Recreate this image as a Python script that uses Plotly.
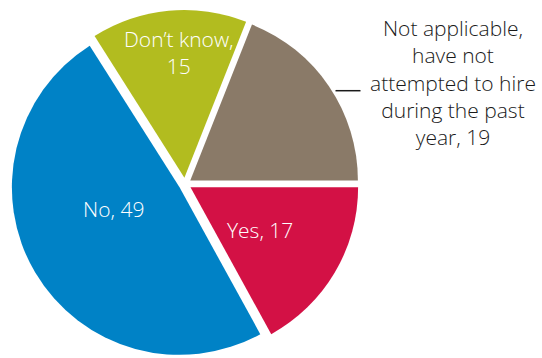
import plotly.graph_objects as go

# Survey responses (percent of respondents)
labels = ["Yes", "No", "Don’t know",
          "Not applicable, have not attempted to hire during the past year"]
values = [17, 49, 15, 19]
colors = ["#D31145", "#0082C6", "#B2BC1F", "#8A7A68"]

# Wrapped label text shown on the chart (label part, value appended below)
label_text = ["Yes, ", "No, ", "Don’t know,<br>",
              "Not applicable,<br>have not<br>attempted to hire<br>during the past<br>year, "]
label_color = ["white", "white", "white", "#1a1a1a"]
# label anchor points in paper coordinates
label_pos = [(0.4797, 0.3589), (0.2103, 0.4162), (0.3303, 0.8547), (0.8358, 0.7685)]

W, H = 542, 358
FONT = "Open Sans, Noto Sans, sans-serif"

fig = go.Figure(
    go.Pie(
        labels=labels,
        values=values,
        sort=False,
        direction="clockwise",
        rotation=90,
        pull=[0.038] * len(values),
        marker=dict(colors=colors, line=dict(width=0)),
        textinfo="none",
        hoverinfo="label+value",
        showlegend=False,
        domain=dict(x=[11 / W, 359 / W], y=[0, 348 / H]),
    )
)

for txt, val, col, (x, y) in zip(label_text, values, label_color, label_pos):
    fig.add_annotation(
        x=x, y=y, xref="paper", yref="paper",
        xanchor="center", yanchor="middle",
        text=f"{txt}{val}", showarrow=False, align="center",
        font=dict(family=FONT, size=21, color=col, weight=300),
    )

# leader line for the outside label
fig.add_shape(
    type="line", xref="paper", yref="paper",
    x0=335.5 / W, x1=360.5 / W, y0=1 - 90.7 / H, y1=1 - 90.7 / H,
    line=dict(color="#1a1a1a", width=1.5),
)

fig.update_layout(
    width=W, height=H,
    margin=dict(l=0, r=0, t=0, b=0),
    paper_bgcolor="white",
    plot_bgcolor="white",
    font=dict(family=FONT),
)

fig.write_html("out.html")
